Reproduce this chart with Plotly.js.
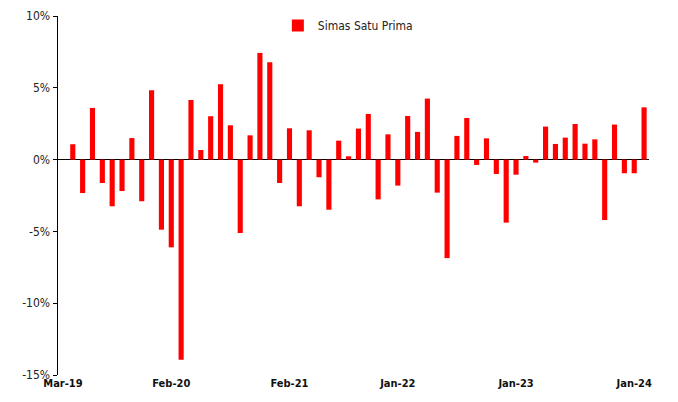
<!DOCTYPE html>
<html>
<head>
<meta charset="utf-8">
<script src="https://cdn.plot.ly/plotly-3.0.1.min.js"></script>
<style>html,body{margin:0;padding:0;background:#fff;}#chart{width:678px;height:402px;}</style>
</head>
<body>
<div id="chart"></div>
<script>
// Monthly categories Mar-19 .. Feb-24
const months = ["Mar-19","Apr-19","May-19","Jun-19","Jul-19","Aug-19","Sep-19","Oct-19","Nov-19","Dec-19",
  "Jan-20","Feb-20","Mar-20","Apr-20","May-20","Jun-20","Jul-20","Aug-20","Sep-20","Oct-20","Nov-20","Dec-20",
  "Jan-21","Feb-21","Mar-21","Apr-21","May-21","Jun-21","Jul-21","Aug-21","Sep-21","Oct-21","Nov-21","Dec-21",
  "Jan-22","Feb-22","Mar-22","Apr-22","May-22","Jun-22","Jul-22","Aug-22","Sep-22","Oct-22","Nov-22","Dec-22",
  "Jan-23","Feb-23","Mar-23","Apr-23","May-23","Jun-23","Jul-23","Aug-23","Sep-23","Oct-23","Nov-23","Dec-23",
  "Jan-24","Feb-24"];
// Monthly return (%) of Simas Satu Prima
const returns = [null, 1.07, -2.33, 3.6, -1.63, -3.25, -2.19, 1.5, -2.9, 4.83,
  -4.88, -6.11, -13.94, 4.15, 0.67, 3.02, 5.25, 2.39, -5.11, 1.69, 7.43, 6.78,
  -1.63, 2.18, -3.25, 2.04, -1.23, -3.49, 1.32, 0.23, 2.16, 3.18, -2.77, 1.76,
  -1.81, 3.04, 1.93, 4.25, -2.3, -6.86, 1.65, 2.9, -0.37, 1.48, -1.0, -4.39,
  -1.05, 0.25, -0.21, 2.3, 1.09, 1.53, 2.48, 1.11, 1.41, -4.21, 2.44, -0.95,
  -0.95, 3.64];
const seriesName = "Simas Satu Prima";
const xTickLabels = ["Mar-19","Feb-20","Feb-21","Jan-22","Jan-23","Jan-24"];
const yTickVals = [-15, -10, -5, 0, 5, 10];
const yTickText = ["-15%", "-10%", "-5%", "0%", "5%", "10%"];

const trace = {
  type: "bar",
  x: months,
  y: returns,
  name: seriesName,
  marker: {color: "#FF0000"},
  showlegend: true,
  hoverinfo: "x+y"
};

const layout = {
  width: 678, height: 402,
  margin: {l: 58, r: 29, t: 16, b: 27, autoexpand: false},
  paper_bgcolor: "#fff", plot_bgcolor: "#fff",
  bargap: 0.48,
  font: {family: "DejaVu Sans Condensed, DejaVu Sans, sans-serif", color: "#333"},
  xaxis: {
    type: "category",
    range: [-0.5, 59.5],
    tickmode: "array",
    tickvals: xTickLabels,
    ticktext: xTickLabels,
    tickangle: 0,
    automargin: false,
    showgrid: false, showline: false, zeroline: false, ticks: "",
    tickfont: {size: 11, color: "#111", family: "DejaVu Sans Condensed, DejaVu Sans, sans-serif", weight: "bold"},
    fixedrange: true
  },
  yaxis: {
    range: [-15, 10],
    tickmode: "array",
    tickvals: yTickVals,
    ticktext: yTickText,
    automargin: false,
    showgrid: false,
    showline: true, linecolor: "#000", linewidth: 1.5,
    ticks: "outside", ticklen: 4, tickcolor: "#000", tickwidth: 1,
    zeroline: true, zerolinecolor: "#000", zerolinewidth: 1.5,
    tickfont: {size: 12, color: "#222"},
    fixedrange: true
  },
  legend: {
    x: 0.372, y: 1.014, xanchor: "left", yanchor: "top",
    bgcolor: "rgba(0,0,0,0)",
    font: {size: 12, color: "#222"},
    itemwidth: 30
  }
};

Plotly.newPlot("chart", [trace], layout, {displayModeBar: false, staticPlot: true});
</script>
</body>
</html>
